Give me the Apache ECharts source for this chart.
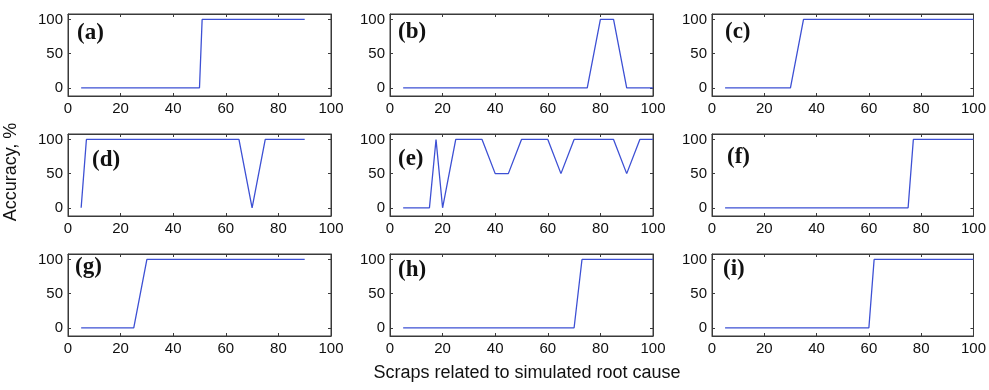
<!DOCTYPE html>
<html>
<head>
<meta charset="utf-8">
<script src="https://cdn.jsdelivr.net/npm/echarts@6/dist/echarts.min.js"></script>
<style>
  html, body { margin: 0; padding: 0; background: #fff; }
  #chart { width: 989px; height: 390px; }
</style>
</head>
<body>
<div id="chart"></div>
<script>
// panel curves as [scraps, accuracy %]
const panelA = [[5, 0], [50, 0], [51, 100], [90, 100]];
const panelB = [[5, 0], [75, 0], [80, 100], [85, 100], [90, 0], [100, 0]];
const panelC = [[5, 0], [30, 0], [35, 100], [100, 100]];
const panelD = [[5, 0], [7, 100], [65, 100], [70, 0], [75, 100], [90, 100]];
const panelE = [[5, 0], [15, 0], [17.5, 100], [20, 0], [25, 100], [35, 100], [40, 50], [45, 50],
  [50, 100], [60, 100], [65, 50], [70, 100], [85, 100], [90, 50], [95, 100], [100, 100]];
const panelF = [[5, 0], [75, 0], [77, 100], [100, 100]];
const panelG = [[5, 0], [25, 0], [30, 100], [90, 100]];
const panelH = [[5, 0], [70, 0], [73, 100], [100, 100]];
const panelI = [[5, 0], [60, 0], [62, 100], [100, 100]];

const panels = [panelA, panelB, panelC, panelD, panelE, panelF, panelG, panelH, panelI];
const panelNames = ["(a)", "(b)", "(c)", "(d)", "(e)", "(f)", "(g)", "(h)", "(i)"];
const yTicks = [0, 50, 100];

const colLeft = [68, 390, 712];
const rowTop = [14, 134, 254];
const plotW = 263;
const plotH = 82;
// where each panel letter sits, relative to its box
const nameOffset = [[9, 8], [8, 7], [13, 7], [24, 15], [8, 14], [15, 12], [7, 2], [8, 5], [11, 4]];

const axisColor = "#3a3a3a";
const lineColor = "#3d50d4";
const tickFont = { color: "#111", fontSize: 15, fontFamily: "Liberation Sans", margin: 5 };

const chart = echarts.init(document.getElementById("chart"));

const grid = [];
const xAxis = [];
const yAxis = [];
const series = [];
const title = [];

panels.forEach((data, i) => {
  const row = Math.floor(i / 3);
  const col = i % 3;
  grid.push({
    left: colLeft[col],
    top: rowTop[row],
    width: plotW,
    height: plotH,
    show: true,
    borderColor: axisColor,
    borderWidth: 1,
  });

  const xBase = {
    gridIndex: i,
    type: "value",
    min: 0,
    max: 100,
    interval: 20,
    splitLine: { show: false },
    axisLine: { show: true, onZero: false, lineStyle: { color: axisColor } },
    axisTick: { show: true, inside: true, length: 3, lineStyle: { color: axisColor } },
  };
  xAxis.push({ ...xBase, position: "bottom", axisLabel: { show: true, ...tickFont } });
  xAxis.push({ ...xBase, position: "top", axisLabel: { show: false } });

  const yBase = {
    gridIndex: i,
    type: "value",
    min: -12,
    max: 108,
    splitLine: { show: false },
    axisLine: { show: true, onZero: false, lineStyle: { color: axisColor } },
    axisTick: { show: true, inside: true, length: 3, customValues: yTicks, lineStyle: { color: axisColor } },
  };
  yAxis.push({
    ...yBase,
    position: "left",
    axisLabel: { show: true, customValues: yTicks, ...tickFont },
  });
  yAxis.push({ ...yBase, position: "right", axisLabel: { show: false } });

  series.push({
    type: "line",
    xAxisIndex: i * 2,
    yAxisIndex: i * 2,
    data: data,
    showSymbol: false,
    silent: true,
    animation: false,
    lineStyle: { color: lineColor, width: 1.3 },
  });

  title.push({
    text: panelNames[i],
    left: colLeft[col] + nameOffset[i][0],
    top: rowTop[row] + nameOffset[i][1],
    padding: 0,
    textStyle: { fontFamily: "Liberation Serif", fontWeight: "bold", fontSize: 23, color: "#111" },
  });
});

chart.setOption({
  animation: false,
  title: title,
  grid: grid,
  xAxis: xAxis,
  yAxis: yAxis,
  series: series,
  graphic: [
    {
      type: "text",
      x: 11,
      y: 172,
      rotation: Math.PI / 2,
      style: {
        text: "Accuracy, %",
        fill: "#111",
        font: "18px 'Liberation Sans'",
        textAlign: "center",
        textVerticalAlign: "middle",
      },
    },
    {
      type: "text",
      x: 527,
      y: 373,
      style: {
        text: "Scraps related to simulated root cause",
        fill: "#111",
        font: "18px 'Liberation Sans'",
        textAlign: "center",
        textVerticalAlign: "middle",
      },
    },
  ],
});
</script>
</body>
</html>
